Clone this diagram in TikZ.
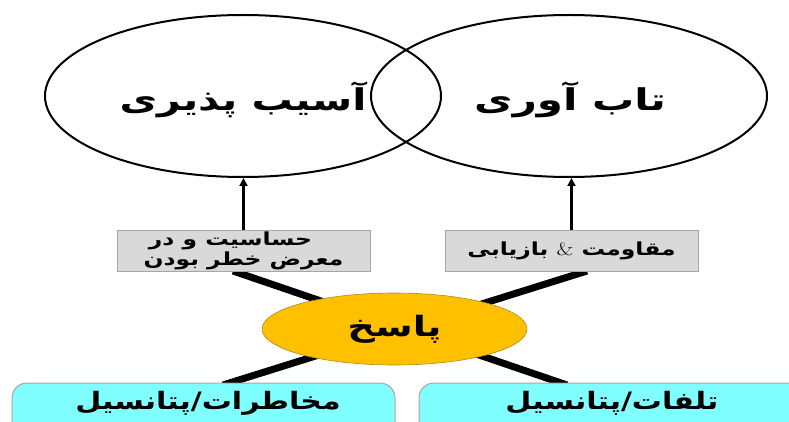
\documentclass[tikz,border=0pt]{standalone}
\usepackage{fontspec}
\usepackage{graphicx}
\TeXXeTstate=1
\newfontfamily\arabicfont[Script=Arabic]{DejaVu Sans}
\usetikzlibrary{shapes.geometric,arrows.meta}
\definecolor{boxgray}{HTML}{D9D9D9}
\definecolor{boxedge}{HTML}{A6A6A6}
\definecolor{gold}{HTML}{FFC000}
\definecolor{goldedge}{HTML}{B08A20}
\definecolor{lightcyan}{HTML}{7FFFFF}
\tikzset{
  bigell/.style={ellipse, draw=black, line width=2pt, minimum width=396pt, minimum height=162pt, inner sep=0pt},
  graybox/.style={rectangle, draw=boxedge, line width=0.8pt, fill=boxgray, minimum width=253pt, minimum height=41pt, inner sep=0pt, font=\arabicfont\bfseries\fontsize{18}{20}\selectfont, align=center},
  cyanbox/.style={rectangle, rounded corners=15pt, draw=boxedge, line width=1pt, fill=lightcyan, minimum width=383pt, minimum height=60pt, inner sep=0pt},
  respell/.style={ellipse, draw=goldedge, line width=0.6pt, fill=gold, minimum width=265pt, minimum height=72pt, inner sep=0pt, font=\arabicfont\bfseries\fontsize{28}{30}\selectfont},
  thickline/.style={line width=7pt, black},
  uparrow/.style={line width=2.5pt, -{Triangle[length=8pt,width=8pt]}},
  bigtext/.style={font=\arabicfont\bfseries\fontsize{30}{32}\selectfont, inner sep=0pt},
  cyantext/.style={font=\arabicfont\bfseries\fontsize{24}{26}\selectfont, inner sep=0pt}
}
\begin{document}
\begin{tikzpicture}[x=1pt,y=-1pt]
\useasboundingbox (0,0) rectangle (789,422);
% cross lines
\coordinate (ul) at (233,271);
\coordinate (lr) at (567,385);
\coordinate (ur) at (587,271);
\coordinate (ll) at (223,385);
\draw[thickline] (ul) -- (lr);
\draw[thickline] (ur) -- (ll);
% big ellipses
\node[bigell] (vul) at (243,96) {};
\node[bigell] (res) at (569,96) {};
\node[bigtext] (vult) at (243,100) {\scalebox{1.37}[1]{\beginR آسیب پذیری\endR}};
\node[bigtext] (rest) at (570,100) {\scalebox{1.4}[1]{\beginR تاب آوری\endR}};
% gray boxes
\node[graybox] (sens) at (243.5,250.5) {\scalebox{1.3}[1]{\beginR حساسیت و  در\endR}\hspace*{26pt}\\\scalebox{1.3}[1]{\beginR معرض خطر بودن\endR}};
\node[graybox] (recov) at (571.5,250.5) {\scalebox{1.3}[1]{\beginR مقاومت {\normalfont\&} بازیابی\endR}};
% arrows
\draw[uparrow] (sens.north) -- (sens.north |- vul.south);
\draw[uparrow] (recov.north) -- (recov.north |- res.south);
% response
\node[respell] (resp) at (394.5,329) {\scalebox{1.37}[1]{\beginR پاسخ\endR}};
% cyan boxes
\node[cyanbox] (haz) at (203.5,413) {};
\node[cyantext] (hazt) at (208,403) {\scalebox{1.25}[1]{\beginR مخاطرات/پتانسیل\endR}};
\node[cyanbox] (loss) at (610.5,413) {};
\node[cyantext] (losst) at (612,403) {\scalebox{1.25}[1]{\beginR تلفات/پتانسیل\endR}};
\end{tikzpicture}
\end{document}
